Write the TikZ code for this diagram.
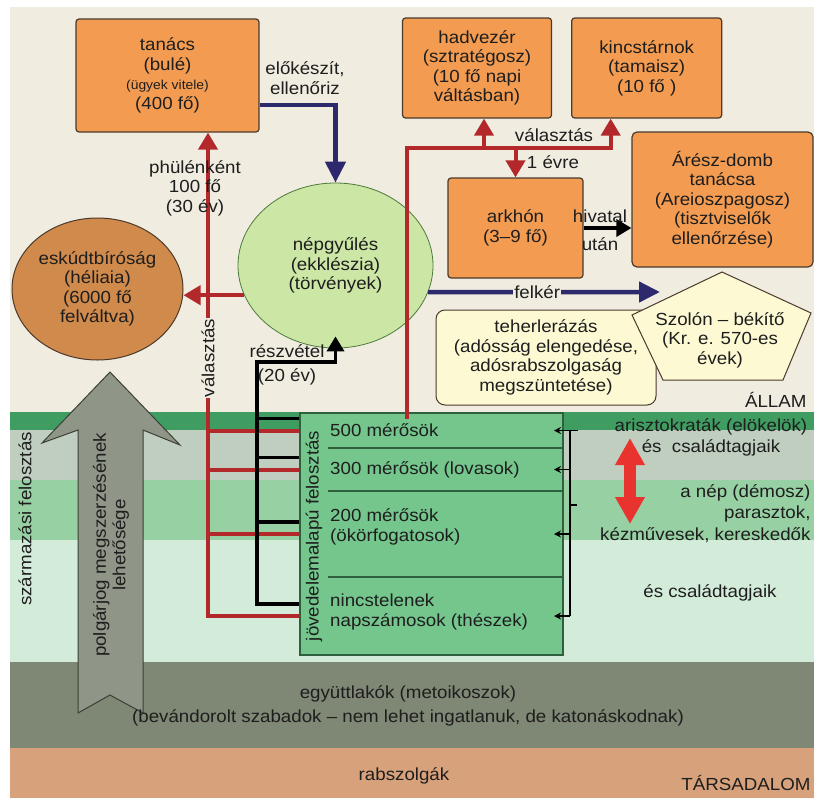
\documentclass[tikz,border=0pt]{standalone}
\usepackage{fontspec}
\setmainfont[FakeStretch=1.07]{Liberation Sans}
\usetikzlibrary{positioning,arrows.meta,shapes.geometric}

\definecolor{ink}{HTML}{1E1E1E}
\definecolor{cream}{HTML}{F1ECE0}
\definecolor{office}{HTML}{F39C51}
\definecolor{court}{HTML}{D08A4B}
\definecolor{boxline}{HTML}{4B3A2C}
\definecolor{assembly}{HTML}{CCE6A5}
\definecolor{assemblyline}{HTML}{4E7A3E}
\definecolor{paper}{HTML}{FDF9D3}
\definecolor{navy}{HTML}{2C2A6C}
\definecolor{blood}{HTML}{B2282B}
\definecolor{alarm}{HTML}{E8332E}
\definecolor{rowgreen}{HTML}{74C68D}
\definecolor{rowline}{HTML}{2F5F3C}
\definecolor{bandA}{HTML}{3F9D61}
\definecolor{bandB}{HTML}{C0CEC0}
\definecolor{bandC}{HTML}{97D0A3}
\definecolor{bandD}{HTML}{D3ECDA}
\definecolor{metoik}{HTML}{7F8775}
\definecolor{slave}{HTML}{D7A27B}
\definecolor{civic}{HTML}{8F9587}
\definecolor{civicline}{HTML}{3C4036}

\begin{document}
\begin{tikzpicture}[
		x=1pt, y=-1pt,
		every node/.style={font=\fontsize{17.5}{19.5}\selectfont, text=ink, align=center},
		office/.style={draw=boxline, fill=office, line width=1.2pt, rounded corners=3pt, inner sep=0pt},
		court/.style={ellipse, draw=boxline, fill=court, line width=1pt, inner sep=0pt},
		assembly/.style={ellipse, draw=assemblyline, fill=assembly, line width=0.8pt, inner sep=0pt},
		paper/.style={draw=boxline, fill=paper, line width=1pt, rounded corners=9pt, inner sep=0pt},
		row/.style={minimum width=235pt, inner sep=0pt, outer sep=0pt},
		rowtxt/.style={anchor=west, align=left, inner sep=0pt},
		rowsep/.style={draw=rowline, line width=1.2pt},
		redln/.style={draw=blood, line width=4pt},
		redarr/.style={redln, -{Triangle[length=17pt,width=19pt]}},
		navyarr/.style={draw=navy, line width=4.5pt, -{Triangle[length=21pt,width=20pt]}},
		blkln/.style={draw=black, line width=3.5pt},
		blkarr/.style={blkln, -{Triangle[length=15pt,width=17pt]}},
		tick/.style={draw=black, line width=1.5pt},
		onln/.style={fill=cream, inner sep=1pt},
	]
	\useasboundingbox (0,0) rectangle (814,798);
	\fill[white] (0,0) rectangle (814,798);
	\fill[cream] (10,7) rectangle (814,412);
	\fill[bandA] (10,412) rectangle (814,430);
	\fill[bandB] (10,430) rectangle (814,480);
	\fill[bandC] (10,480) rectangle (814,540);
	\fill[bandD] (10,540) rectangle (814,662);
	\fill[metoik] (10,662) rectangle (814,748);
	\fill[slave] (10,748) rectangle (814,798);

	\draw[draw=civicline, fill=civic, line width=1pt] (110,372) -- (180,445) -- (143,430) -- (143,713) -- (110,695) -- (78,713) -- (78,430) -- (42,443) -- cycle;
	\node[rotate=90] (polgar) at (111,545) {polgárjog megszerzésének\\lehetősége};
	\node[rotate=90] (szarm) at (25,519) {származási felosztás};

	\node[office, minimum width=183pt, minimum height=113pt] (tanacs) at (167.5,75.5) {tanács\\(bulé)\\{\fontsize{13}{15}\selectfont(ügyek vitele)}\\(400 fő)};
	\node[office, minimum width=149pt, minimum height=100pt] (hadv) at (477,68) {hadvezér\\(sztratégosz)\\(10 fő napi\\váltásban)};
	\node[office, minimum width=150pt, minimum height=100pt, right=19pt of hadv] (kincs) {kincstárnok\\(tamaisz)\\(10 fő )};
	\node[office, minimum width=135pt, minimum height=100pt] (arkhon) at (515.5,228) {arkhón\\(3–9 fő)};
	\node[office, minimum width=181pt, minimum height=135pt, rounded corners=5pt] (aresz) at (722.5,199.5) {Árész-domb\\tanácsa\\(Areioszpagosz)\\(tisztviselők\\ellenőrzése)};
	\node[assembly, minimum width=195pt, minimum height=165pt] (nepgy) at (335.5,265.5) {népgyűlés\\(ekklészia)\\(törvények)};
	\node[court, minimum width=171pt, minimum height=142pt] (eskudt) at (97.5,289) {eskúdtbíróság\\(héliaia)\\(6000 fő\\felváltva)};
	\node[paper, minimum width=220pt, minimum height=95pt] (teher) at (546,357.5) {teherlerázás\\(adósság elengedése,\\adósrabszolgaság\\megszüntetése)};
	\draw[draw=boxline, fill=paper, line width=1pt] (722,272) -- (811,313) -- (783,380) -- (663,380) -- (632,315) -- cycle;
	\node (szolon) at (720,340) {Szolón – békítő\\(Kr. e. 570-es\\évek)};
	\coordinate (szolin) at (660,292);

	\node[draw=rowline, fill=rowgreen, line width=1.2pt, minimum width=263pt, minimum height=242pt, inner sep=0pt] (income) at (431.5,534) {};
	\node[row, minimum height=35pt] (r500) at (445.5,430.5) {};
	\node[row, minimum height=43pt, below=0pt of r500] (r300) {};
	\node[row, minimum height=86pt, below=0pt of r300] (r200) {};
	\node[row, minimum height=78pt, below=0pt of r200] (r0) {};
	\foreach \r in {r500,r300,r200}
		\draw[rowsep] (\r.south west) -- (\r.south east);
	\node[rowtxt] (t500) at ([xshift=2pt]r500.west) {500 mérősök};
	\node[rowtxt] (t300) at ([xshift=2pt]r300.west) {300 mérősök (lovasok)};
	\node[rowtxt] (t200) at ([xshift=2pt, yshift=7pt]r200.west) {200 mérősök\\(ökörfogatosok)};
	\node[rowtxt] (t0) at ([xshift=2pt, yshift=4pt]r0.west) {nincstelenek\\napszámosok (thészek)};
	\node[rotate=90] (jov) at (314,536) {jövedelemalapú felosztás};

	\coordinate (vred) at ([xshift=40.5pt]tanacs.south);
	\foreach \r in {r500,r300,r200}
		\draw[redln] (income.west |- \r.west) -- (vred |- \r.west);
	\draw[redarr] (income.west |- r0.west) -| (vred);
	\draw[redarr] (nepgy.198) -- (nepgy.198 -| eskudt.east);

	\coordinate (vblk) at (257,362);
	\coordinate (nepin) at ([yshift=12pt]nepgy.south);
	\foreach \r in {r500,r300,r200,r0}
		\path ([yshift=12pt]\r.west) coordinate (b\r);
	\foreach \r in {r500,r300,r200}
		\draw[blkln] (income.west |- b\r) -- (vblk |- b\r);
	\draw[blkarr] (income.west |- br0) -| (vblk) -| (nepin);

	\coordinate (ark500) at (407,419);
	\coordinate (kincin) at ([xshift=-36pt]kincs.south);
	\coordinate (hadin) at ([xshift=7pt]hadv.south);
	\coordinate (rjoin) at (kincin |- 0,148);
	\draw[redarr] (ark500) |- (rjoin) -- (kincin);
	\draw[redarr] (hadin |- rjoin) -- (hadin);
	\draw[redarr] (arkhon.north |- rjoin) -- (arkhon.north);

	\draw[navyarr] ([yshift=-29.5pt]tanacs.east) -| (nepgy.north);
	\draw[navyarr] (nepgy.344) -- (szolin) node[onln, pos=0.47] (felker) {felkér};
	\draw[blkarr] (arkhon.east) -- (arkhon.east -| aresz.west);

	\coordinate (socup) at (630,438);
	\coordinate (socdn) at (630,524);
	\draw[draw=alarm, line width=12pt, {Triangle[length=27pt,width=28pt]}-{Triangle[length=27pt,width=28pt]}] (socup) -- (socdn);

	\coordinate (brx) at (570,0);
	\draw[tick] (brx |- r500.east) -- (brx |- r0.east);
	\foreach \r in {r500,r300,r200,r0}
		\draw[tick, -{Stealth[length=7pt,width=7pt]}] (brx |- \r.east) -- ([xshift=-9pt]\r.east);
	\draw[tick] (brx |- r500.east) -- ++(8,0);
	\draw[tick] (brx |- r200.north) ++(0,14) -- ++(7,0);

	\node (elok) at (305,78) {előkészít,\\ellenőriz};
	\node (phul) at (195,188) {phülénként\\100 fő\\(30 év)};
	\node[rotate=90, onln] (valaszt) at (208,358) {választás};
	\node (reszv) at (287,365) {részvétel\\[4pt](20 év)};
	\node (valaszt2) at (554,135) {választás};
	\node (evre) at (553,162) {1 évre};
	\node (hiv) at (600,216) {hivatal};
	\node (utan) at (600,244) {után};
	\node[anchor=east] (allam) at (810,400) {ÁLLAM};
	\node (arisz) at (711,427) {arisztokraták (elökelök)};
	\node (arcsal) at (711,448) {és\ \ családtagjaik};
	\node[anchor=east] (nep) at (814,493) {a nép (démosz)};
	\node[anchor=east] (paraszt) at (814,514) {parasztok,};
	\node[anchor=east] (kezmu) at (814,535) {kézművesek, kereskedők};
	\node (nepcsal) at (710,593) {és családtagjaik};
	\node (metoikt) at (408,706) {együttlakók (metoikoszok)\\[4pt](bevándorolt szabadok – nem lehet ingatlanuk, de katonáskodnak)};
	\node (slavet) at (404,776) {rabszolgák};
	\node[anchor=east] (tars) at (814,783) {TÁRSADALOM};
\end{tikzpicture}
\end{document}
